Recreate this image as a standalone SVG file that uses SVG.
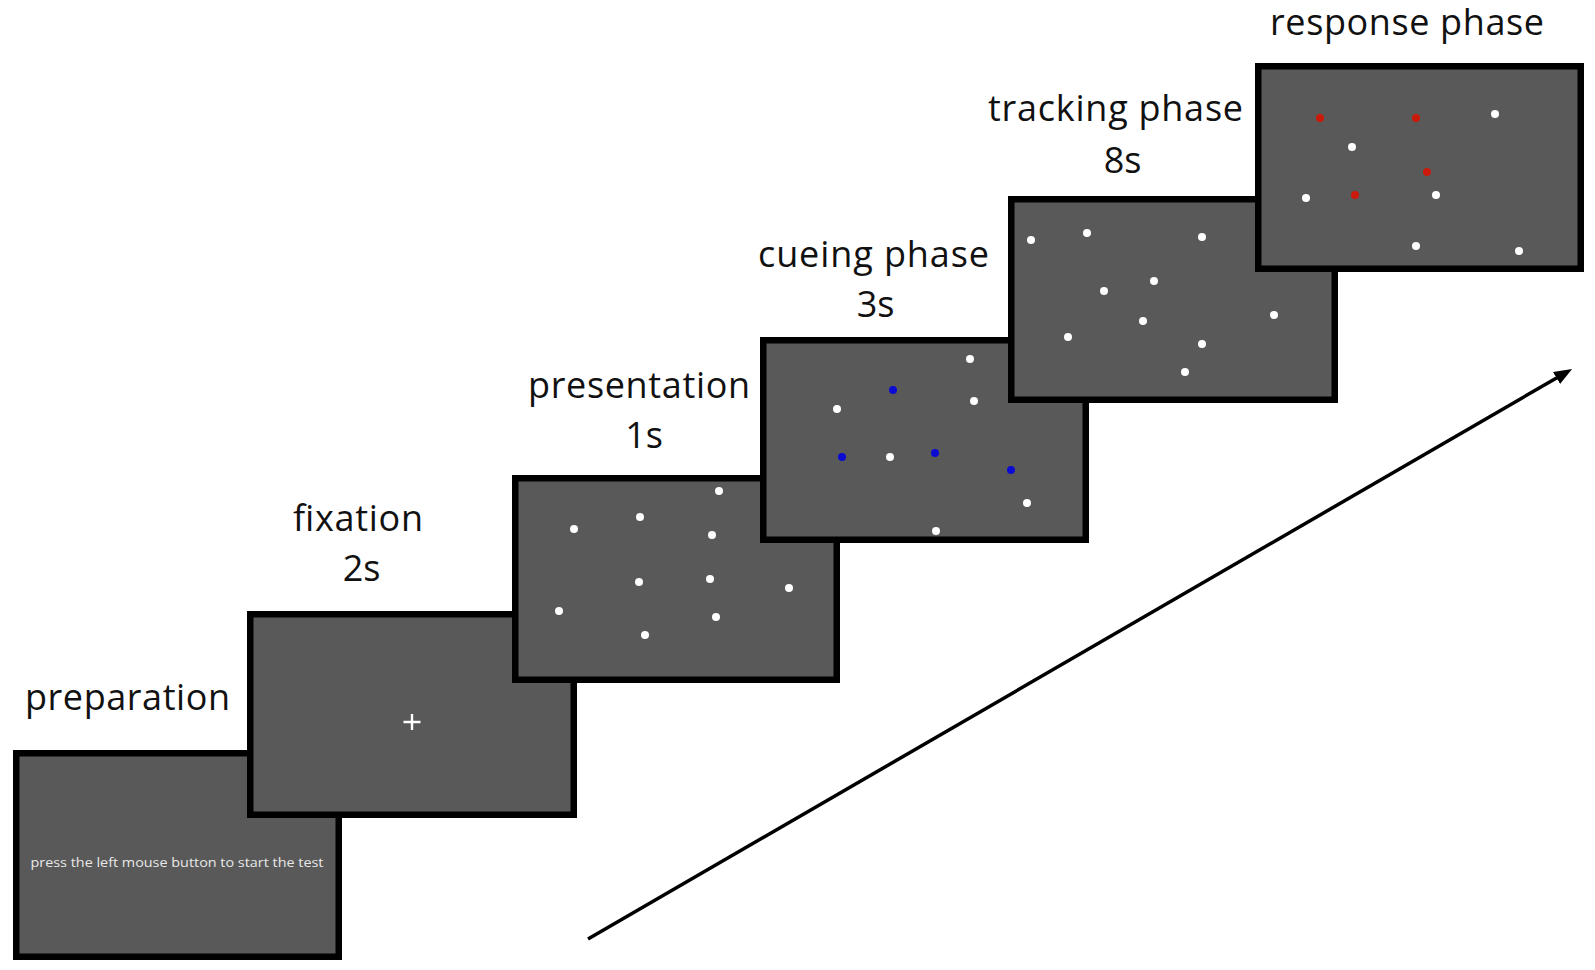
<svg xmlns="http://www.w3.org/2000/svg" width="1595" height="970" viewBox="0 0 1595 970">
<style>
.screen{fill:#595959;stroke:#000;stroke-width:6.5}
.lbl{font-family:"Open Sans","Noto Sans",sans-serif;font-size:36px;fill:#111;text-anchor:middle}
.w{fill:#fff}
.b{fill:#0a0ad2}
.r{fill:#cc1a0a}
.msg{font-family:"Open Sans","Noto Sans",sans-serif;font-size:12.5px;fill:#e8e8e8;text-anchor:middle}
</style>
<defs>
<marker id="ah" markerUnits="userSpaceOnUse" markerWidth="20" markerHeight="16" refX="4" refY="7" orient="auto">
<path d="M0,0 L18,7 L0,14 z" fill="#000"/>
</marker>
</defs>
<rect width="1595" height="970" fill="#fff"/>

<g id="preparation">
<rect class="screen" x="16.25" y="753.25" width="322.5" height="203.5"/>
<text class="msg" x="177" y="867" textLength="293" lengthAdjust="spacingAndGlyphs">press the left mouse button to start the test</text>
<text class="lbl" x="127.5" y="710" textLength="205">preparation</text>
</g>

<g id="fixation">
<rect class="screen" x="250.25" y="614.25" width="323.5" height="200.5"/>
<path d="M403.5,722 H420.5 M412,714 V730" stroke="#fff" stroke-width="2.4" fill="none"/>
<text class="lbl" x="358" y="531" textLength="130">fixation</text>
<text class="lbl" x="361.5" y="581">2s</text>
</g>

<g id="presentation">
<rect class="screen" x="515.25" y="478.25" width="321.5" height="201.5"/>
<circle class="w" cx="719" cy="491" r="4"/>
<circle class="w" cx="640" cy="517" r="4"/>
<circle class="w" cx="574" cy="529" r="4"/>
<circle class="w" cx="712" cy="535" r="4"/>
<circle class="w" cx="639" cy="582" r="4"/>
<circle class="w" cx="710" cy="579" r="4"/>
<circle class="w" cx="789" cy="588" r="4"/>
<circle class="w" cx="559" cy="611" r="4"/>
<circle class="w" cx="716" cy="617" r="4"/>
<circle class="w" cx="645" cy="635" r="4"/>
<text class="lbl" x="639" y="398" textLength="222">presentation</text>
<text class="lbl" x="644" y="448">1s</text>
</g>

<g id="cueing">
<rect class="screen" x="763.25" y="340.25" width="322.5" height="199.5"/>
<circle class="w" cx="970" cy="359" r="4"/>
<circle class="b" cx="893" cy="390" r="4"/>
<circle class="w" cx="974" cy="401" r="4"/>
<circle class="w" cx="837" cy="409" r="4"/>
<circle class="b" cx="842" cy="457" r="4"/>
<circle class="w" cx="890" cy="457" r="4"/>
<circle class="b" cx="935" cy="453" r="4"/>
<circle class="b" cx="1011" cy="470" r="4"/>
<circle class="w" cx="1027" cy="503" r="4"/>
<circle class="w" cx="936" cy="531" r="4"/>
<text class="lbl" x="873.5" y="267" textLength="231">cueing phase</text>
<text class="lbl" x="875.5" y="317">3s</text>
</g>

<g id="tracking">
<rect class="screen" x="1011.25" y="199.25" width="323.5" height="200.5"/>
<circle class="w" cx="1031" cy="240" r="4"/>
<circle class="w" cx="1087" cy="233" r="4"/>
<circle class="w" cx="1202" cy="237" r="4"/>
<circle class="w" cx="1154" cy="281" r="4"/>
<circle class="w" cx="1104" cy="291" r="4"/>
<circle class="w" cx="1274" cy="315" r="4"/>
<circle class="w" cx="1143" cy="321" r="4"/>
<circle class="w" cx="1068" cy="337" r="4"/>
<circle class="w" cx="1202" cy="344" r="4"/>
<circle class="w" cx="1185" cy="372" r="4"/>
<text class="lbl" x="1115.5" y="121" textLength="255">tracking phase</text>
<text class="lbl" x="1122.5" y="173">8s</text>
</g>

<g id="response">
<rect class="screen" x="1258.25" y="66.25" width="322.5" height="202.5"/>
<circle class="r" cx="1320" cy="118" r="4"/>
<circle class="r" cx="1416" cy="118" r="4"/>
<circle class="w" cx="1495" cy="114" r="4"/>
<circle class="w" cx="1352" cy="147" r="4"/>
<circle class="r" cx="1427" cy="172" r="4"/>
<circle class="r" cx="1355" cy="195" r="4"/>
<circle class="w" cx="1306" cy="198" r="4"/>
<circle class="w" cx="1436" cy="195" r="4"/>
<circle class="w" cx="1416" cy="246" r="4"/>
<circle class="w" cx="1519" cy="251" r="4"/>
<text class="lbl" x="1407" y="35" font-size="32" textLength="274">response phase</text>
</g>

<g id="connectors">
<line x1="588" y1="939" x2="1560" y2="376" stroke="#000" stroke-width="3.5" marker-end="url(#ah)"/>
</g>
</svg>
